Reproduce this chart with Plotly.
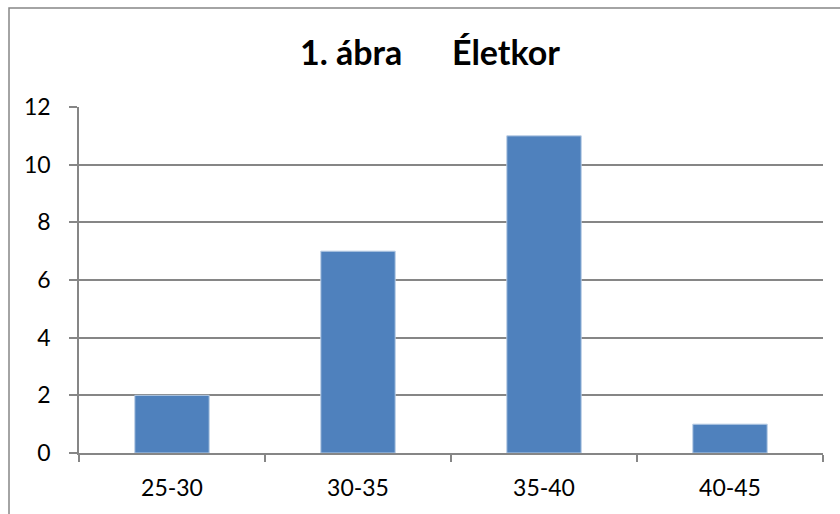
import plotly.graph_objects as go

# Age groups and respondent counts
age_groups = ["25-30", "30-35", "35-40", "40-45"]
counts = [2, 7, 11, 1]
y_ticks = [0, 2, 4, 6, 8, 10, 12]

W, H = 840, 514
L, R, T, B = 79, 17, 107, 61
plot_w = W - L - R
plot_h = H - T - B

def px_x(p):
    return (p - L) / plot_w

def px_y(p):
    return (H - B - p) / plot_h

fig = go.Figure(
    go.Bar(
        x=age_groups,
        y=counts,
        width=0.4,
        marker=dict(color="#4F81BD", line=dict(color="#B9CDE5", width=1)),
    )
)

fig.update_layout(
    width=W,
    height=H,
    margin=dict(l=L, r=R, t=T, b=B),
    paper_bgcolor="white",
    plot_bgcolor="white",
    showlegend=False,
    font=dict(family="Lato, Open Sans, sans-serif", size=23, color="#000000"),
    title=dict(
        text="<b>1. ábra\u00a0\u00a0\u00a0\u00a0\u00a0\u00a0Életkor</b>",
        x=px_x(430),
        xanchor="center",
        xref="paper",
        y=1 - 53 / H,
        yanchor="middle",
        font=dict(family="Lato, Open Sans, sans-serif", size=34, color="#000000"),
    ),
    bargap=0.6,
    xaxis=dict(
        showline=True,
        linecolor="#868686",
        linewidth=2,
        ticks="outside",
        tickson="boundaries",
        ticklen=7,
        tickcolor="#868686",
        tickwidth=1.5,
        showgrid=False,
        tickfont=dict(size=23),
        ticklabelstandoff=13,
    ),
    yaxis=dict(
        range=[0, 12],
        tickvals=y_ticks,
        showline=True,
        linecolor="#868686",
        linewidth=1.5,
        ticks="outside",
        ticklen=8,
        tickcolor="#868686",
        tickwidth=2,
        showgrid=True,
        gridcolor="#868686",
        gridwidth=2,
        zeroline=False,
        tickfont=dict(size=23),
        ticklabelstandoff=14,
    ),
    shapes=[
        dict(
            type="rect",
            xref="paper",
            yref="paper",
            x0=px_x(9),
            x1=px_x(W + 20),
            y0=px_y(H + 20),
            y1=px_y(8),
            line=dict(color="#868686", width=1.5),
            fillcolor="rgba(0,0,0,0)",
            layer="below",
        )
    ],
)

fig.write_html("out.html")
